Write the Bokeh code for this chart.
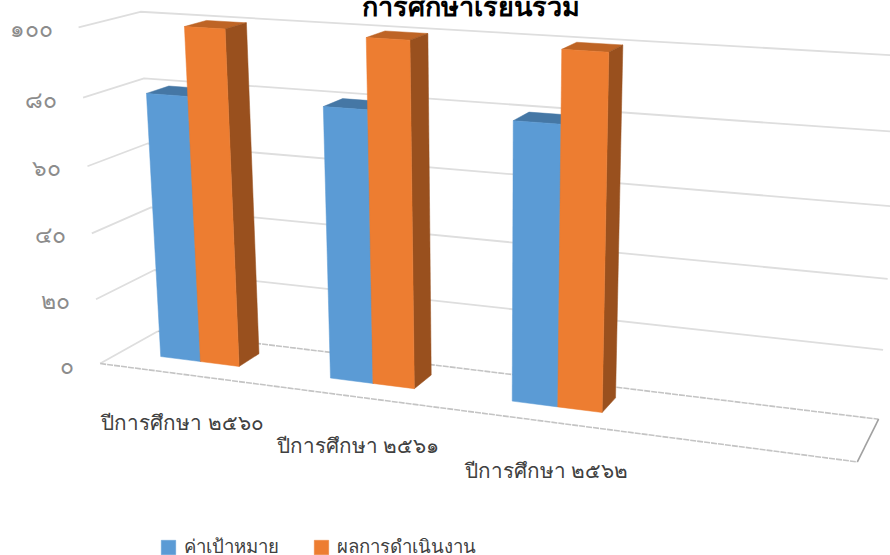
import numpy as np
from bokeh.plotting import figure
from bokeh.models import Range1d, Legend, LegendItem
from bokeh.core.properties import value
from bokeh.embed import file_html
from bokeh.resources import INLINE

title_text = "การศึกษาเรียนรวม"
categories = ["ปีการศึกษา ๒๕๖๐", "ปีการศึกษา ๒๕๖๑", "ปีการศึกษา ๒๕๖๒"]
series_names = ["ค่าเป้าหมาย", "ผลการดำเนินงาน"]
target = [80, 80, 80]
result = [100, 100, 100]
ticks = [0, 20, 40, 60, 80, 100]
tick_labels = ["๐", "๒๐", "๔๐", "๖๐", "๘๐", "๑๐๐"]

THAI = "Noto Sans"
W, H = 890, 555

# Perspective camera fitted to the corners of the chart's box: (category, value, depth) -> pixel
corners = [
    ((0, 0, 0), (100, 362)), ((0, 100, 0), (78, 27)),
    ((0, 0, 1), (157, 332)), ((0, 100, 1), (140, 11)),
    ((4, 0, 0), (857, 463)), ((4, 100, 0), (880, 76)),
    ((4, 0, 1), (878, 417)), ((4, 100, 1), (902, 56)),
]
A, b = [], []
for (u, v, w), (x, y) in corners:
    A.append([u, v, w, 1, 0, 0, 0, 0, -x*u, -x*v, -x*w]); b.append(x)
    A.append([0, 0, 0, 0, u, v, w, 1, -y*u, -y*v, -y*w]); b.append(y)
cam = np.append(np.linalg.lstsq(np.array(A, float), np.array(b, float), rcond=None)[0], 1).reshape(3, 4)

def proj(u, v, w):
    q = cam @ np.array([u, v, w, 1.0])
    return q[0] / q[2], q[1] / q[2]

def poly(pts):
    xy = [proj(*pt) for pt in pts]
    return [c[0] for c in xy], [c[1] for c in xy]

p = figure(width=W, height=H, x_range=Range1d(0, W), y_range=Range1d(H, 0),
           output_backend="svg", toolbar_location=None, min_border=0)
p.axis.visible = False
p.grid.visible = False
p.outline_line_color = None

# walls
for t in ticks[1:]:
    xs, ys = poly([(0, t, 0), (0, t, 1), (4, t, 1)])
    p.line(xs, ys, line_color="#DEDEDE", line_width=1.8)
xs, ys = poly([(0, 0, 0), (0, 0, 1)])
p.line(xs, ys, line_color="#DEDEDE", line_width=1.8)
for seg in ([(0, 0, 1), (4, 0, 1)], [(0, 0, 0), (4, 0, 0)]):
    xs, ys = poly(seg)
    p.line(xs, ys, line_color="#C4C4C4", line_width=1.6, line_dash="6 1")
xs, ys = poly([(4, 0, 1), (4, 0, 0)])
p.line(xs, ys, line_color="#A0A0A0", line_width=1.6)

# bars
w0, w1 = 0.36, 0.74
left, mid, right = 0.24, 0.48, 0.71
legend_r = {}
for i in range(3):
    for name, val, a, c, front, top, side in [
        (series_names[0], target[i], left, mid, "#5B9BD5", "#4577A5", "#3E6C96"),
        (series_names[1], result[i], mid, right, "#ED7D31", "#BE6425", "#99501E"),
    ]:
        a, c = i + a, i + c
        xs, ys = poly([(a, val, w0), (a, val, w1), (c, val, w1), (c, val, w0)])
        p.patch(xs, ys, fill_color=top, line_color=top, line_width=0.5)
        xs, ys = poly([(c, 0, w0), (c, 0, w1), (c, val, w1), (c, val, w0)])
        p.patch(xs, ys, fill_color=side, line_color=side, line_width=0.5)
        xs, ys = poly([(a, 0, w0), (c, 0, w0), (c, val, w0), (a, val, w0)])
        legend_r[name] = p.patch(xs, ys, fill_color=front, line_color=front, line_width=0.5)

# value labels
for t, lab in zip(ticks, tick_labels):
    x, y = proj(0, t, 0)
    p.text([x - 26], [y + 1], text=[lab], text_align="right", text_baseline="middle",
           text_color="#8C8C8C", text_font=value(THAI), text_font_size="23px")

# category labels
for i, lab in enumerate(categories):
    x, y = proj(i + 0.5, 0, 0)
    p.text([x - 1], [y + 48], text=[lab], text_align="center", text_baseline="middle",
           text_color="#404040", text_font=value(THAI), text_font_size="20.7px")

# title
p.text([470], [5], text=[title_text], text_align="center", text_baseline="middle",
       text_color="#000000", text_font=value(THAI), text_font_style="bold", text_font_size="27px")

legend = Legend(items=[LegendItem(label=n, renderers=[legend_r[n]]) for n in series_names],
                orientation="horizontal", location=(159, -6), background_fill_alpha=0,
                border_line_color=None, glyph_width=18, glyph_height=18, label_standoff=7,
                label_text_font=THAI, label_text_font_size="18.6px", label_text_color="#404040",
                spacing=33, padding=6, margin=0)
p.add_layout(legend, "center")

open("out.html", "w").write(file_html(p, INLINE))
